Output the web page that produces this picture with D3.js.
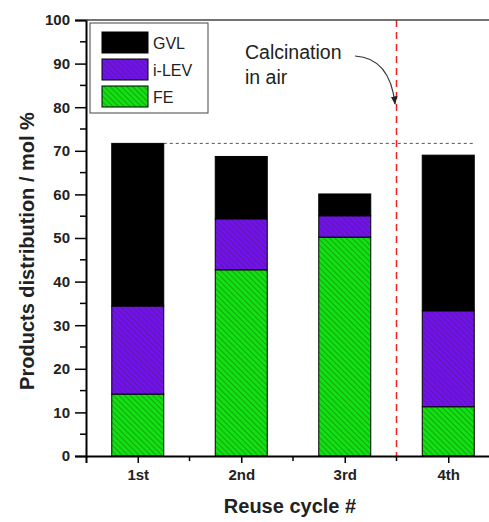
<!DOCTYPE html>
<meta charset="utf-8">
<style>
body { margin: 0; background: #fff; }
text { font-family: Arial, "Liberation Sans", sans-serif; }
</style>
<svg width="489" height="522"></svg>
<script src="https://d3js.org/d3.v7.min.js"></script>
<script>

var cycles = ["1st", "2nd", "3rd", "4th"];
var fe   = [14.2, 42.7, 50.2, 11.3];
var ilev = [20.2, 11.7, 4.9, 22.0];
var gvl  = [37.3, 14.3, 5.0, 35.7];
var seriesNames = ["FE", "i-LEV", "GVL"];
var legendOrder = ["GVL", "i-LEV", "FE"];
var yTicks = [0, 10, 20, 30, 40, 50, 60, 70, 80, 90, 100];

var svg = d3.select("svg"),
    plotL = 86, plotT = 20, plotB = 456, plotR = 500;

var fills = { "FE": "url(#hatchFE)", "i-LEV": "url(#hatchLEV)", "GVL": "#000" };

// hatch patterns
var defs = svg.append("defs");
function hatch(id, bg) {
  var p = defs.append("pattern").attr("id", id)
      .attr("patternUnits", "userSpaceOnUse")
      .attr("width", 4).attr("height", 4)
      .attr("patternTransform", "rotate(-45)");
  p.append("rect").attr("width", 4).attr("height", 4).attr("fill", bg);
  p.append("line").attr("x1", 0).attr("y1", 0).attr("x2", 0).attr("y2", 4)
      .attr("stroke", "#1a3a10").attr("stroke-width", 1).attr("stroke-opacity", 0.7);
}
hatch("hatchFE", "#12e012");
hatch("hatchLEV", "#7410ee");

var x = d3.scaleLinear().domain([0.5, 4.5]).range([plotL, plotR]);
var y = d3.scaleLinear().domain([0, 100]).range([plotB, plotT]);

var rows = cycles.map(function(c, i) {
  return { cycle: c, i: i + 1, "FE": fe[i], "i-LEV": ilev[i], "GVL": gvl[i] };
});
var stack = d3.stack().keys(seriesNames)(rows);

var barW = 52;
var g = svg.append("g");
stack.forEach(function(layer) {
  g.selectAll(null).data(layer).enter().append("rect")
      .attr("x", function(d) { return x(d.data.i) - barW / 2; })
      .attr("y", function(d) { return y(d[1]); })
      .attr("width", barW)
      .attr("height", function(d) { return y(d[0]) - y(d[1]); })
      .attr("fill", fills[layer.key])
      .attr("stroke", "#000").attr("stroke-width", 1);
});

// dashed reference line at first total
var firstTotal = fe[0] + ilev[0] + gvl[0];
svg.append("line")
    .attr("x1", x(1) + barW / 2).attr("x2", x(4) + barW / 2)
    .attr("y1", y(firstTotal)).attr("y2", y(firstTotal))
    .attr("stroke", "#555").attr("stroke-width", 1).attr("stroke-dasharray", "3,3");

// red dashed calcination line
svg.append("line")
    .attr("x1", x(3.5)).attr("x2", x(3.5))
    .attr("y1", y(100)).attr("y2", y(0))
    .attr("stroke", "#ee2222").attr("stroke-width", 1.5).attr("stroke-dasharray", "7,5");

// axes
var yAxis = d3.axisLeft(y).tickValues(yTicks).tickSize(11).tickPadding(5);
var yg = svg.append("g").attr("transform", "translate(" + plotL + ",0)").call(yAxis);
yg.selectAll(".tick line").attr("stroke-width", 1.5);
yg.select(".domain").attr("stroke-width", 2);
yg.selectAll(".tick text")
    .style("font-family", "Arial, 'Liberation Sans', sans-serif")
    .style("font-weight", "bold").style("font-size", "15px").attr("fill", "#222");
yg.selectAll(null).data(d3.range(5, 100, 10)).enter().append("line")
    .attr("x1", -6).attr("x2", 0)
    .attr("y1", function(d) { return y(d); }).attr("y2", function(d) { return y(d); })
    .attr("stroke", "#000").attr("stroke-width", 1.5);

var xAxis = d3.axisBottom(x).tickValues([1, 2, 3, 4])
    .tickFormat(function(d) { return cycles[d - 1]; }).tickSize(7).tickPadding(6);
var xg = svg.append("g").attr("transform", "translate(0," + plotB + ")").call(xAxis);
xg.selectAll(".tick line").attr("stroke-width", 1.5);
xg.select(".domain").attr("stroke-width", 2);
xg.selectAll(".tick text")
    .style("font-family", "Arial, 'Liberation Sans', sans-serif")
    .style("font-weight", "bold").style("font-size", "15px").attr("fill", "#222");
xg.selectAll(null).data([1.5, 2.5, 3.5]).enter().append("line")
    .attr("x1", function(d) { return x(d); }).attr("x2", function(d) { return x(d); })
    .attr("y1", 0).attr("y2", 5)
    .attr("stroke", "#000").attr("stroke-width", 1.5);

// top frame
svg.append("line").attr("x1", plotL).attr("x2", plotR).attr("y1", plotT).attr("y2", plotT)
    .attr("stroke", "#444").attr("stroke-width", 1.5);

// axis titles
svg.append("text").attr("transform", "translate(27,251) rotate(-90)")
    .attr("text-anchor", "middle").attr("dy", "0.35em")
    .style("font-weight", "bold").style("font-size", "20px").attr("fill", "#222")
    .text("Products distribution / mol %");
svg.append("text").attr("x", 290).attr("y", 513).attr("text-anchor", "middle")
    .style("font-weight", "bold").style("font-size", "20px").attr("fill", "#222")
    .text("Reuse cycle #");

// legend
var lg = svg.append("g");
lg.append("rect").attr("x", 90).attr("y", 23).attr("width", 118).attr("height", 90)
    .attr("fill", "#fff").attr("stroke", "#444").attr("stroke-width", 1);
legendOrder.forEach(function(k, i) {
  var yy = 32 + i * 27;
  lg.append("rect").attr("x", 102).attr("y", yy).attr("width", 46).attr("height", 21)
      .attr("fill", fills[k]).attr("stroke", "#000").attr("stroke-width", 1);
  lg.append("text").attr("x", 153).attr("y", yy + 11).attr("dy", "0.35em")
      .style("font-size", "16px").attr("fill", "#222").text(k);
});

// annotation
svg.append("text").attr("x", 245).attr("y", 59).style("font-size", "19.5px").attr("fill", "#222").text("Calcination");
svg.append("text").attr("x", 245).attr("y", 84).style("font-size", "19.5px").attr("fill", "#222").text("in air");
defs.append("marker").attr("id", "arrow").attr("viewBox", "0 0 10 10")
    .attr("refX", 9).attr("refY", 5).attr("markerWidth", 7).attr("markerHeight", 7)
    .attr("orient", "auto")
  .append("path").attr("d", "M0,1 L10,5 L0,9 Z").attr("fill", "#222");
svg.append("path")
    .attr("d", "M355,56 Q390,58 395,104")
    .attr("fill", "none").attr("stroke", "#333").attr("stroke-width", 1.2)
    .attr("marker-end", "url(#arrow)");

</script>
